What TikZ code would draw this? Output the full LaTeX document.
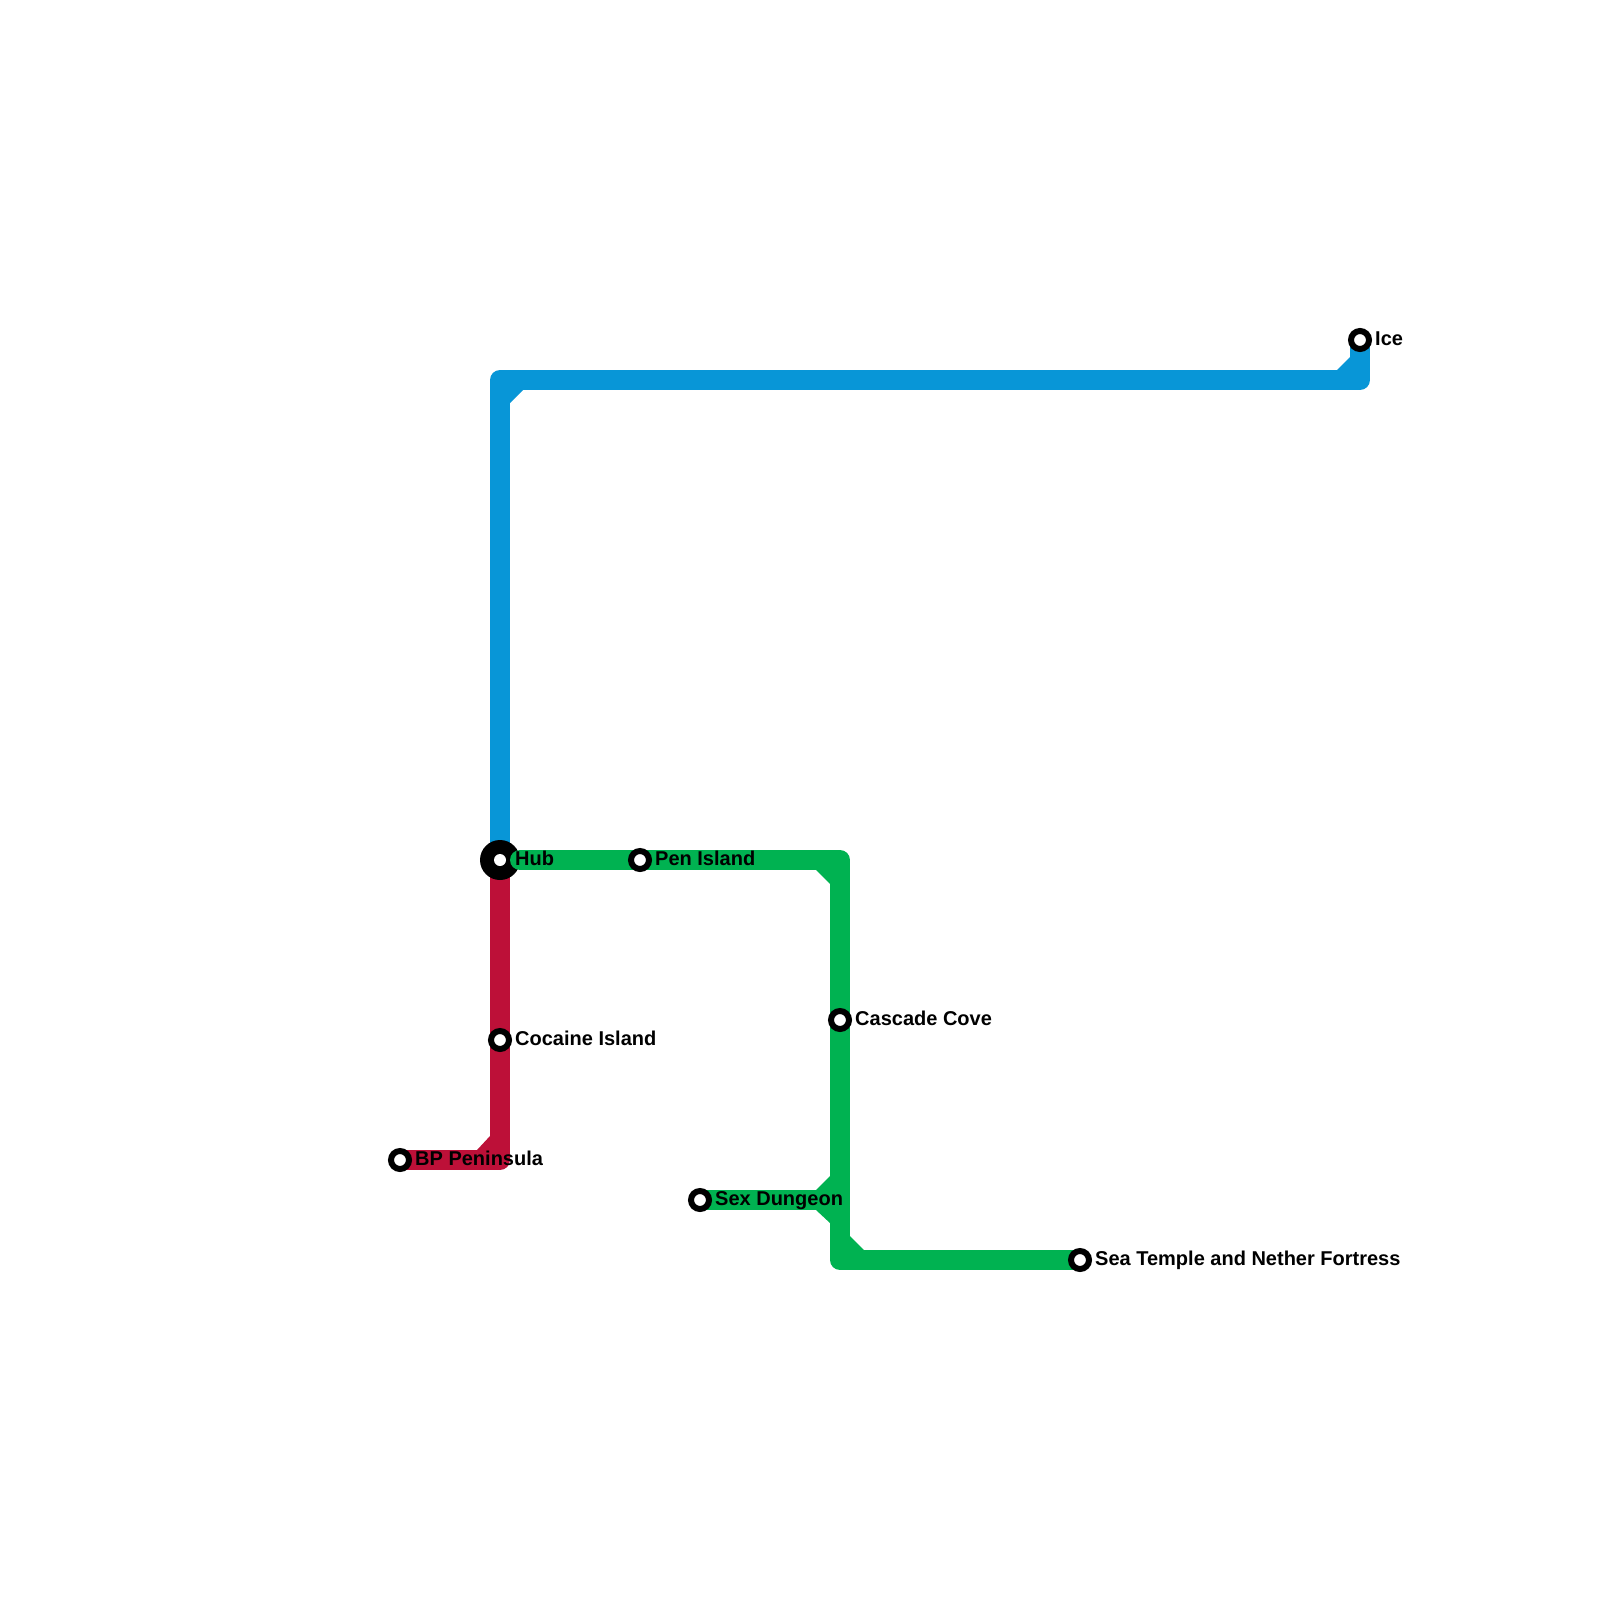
\documentclass[tikz,border=0pt]{standalone}
\usepackage{fontspec}
\setmainfont{Liberation Sans}
\definecolor{bluel}{HTML}{0896D7}
\definecolor{greenl}{HTML}{00B251}
\definecolor{redl}{HTML}{BD1038}
\tikzset{
  stn/.style={circle,fill=white,draw=black,line width=6pt,outer sep=0pt,minimum size=18pt,inner sep=0pt},
  hubstn/.style={circle,fill=black,outer sep=0pt,minimum size=40pt,inner sep=0pt},
  hubdot/.style={circle,fill=white,outer sep=0pt,minimum size=12pt,inner sep=0pt},
  lbl/.style={anchor=base west,inner sep=0pt,font=\fontsize{20}{20}\selectfont\bfseries,text=black},
  metro/.style={line width=20pt,line join=round},
}
\begin{document}
\begin{tikzpicture}[x=1pt,y=-1pt]
\useasboundingbox (0,0) rectangle (1600,1600);
\fill[white] (0,0) rectangle (1600,1600);
% anchor coordinates
\coordinate (hubp) at (500,860);
\coordinate (penp) at (640,860);
\coordinate (cocp) at (500,1040);
\coordinate (bpp) at (400,1160);
\coordinate (icep) at (1360,340);
\coordinate (casp) at (840,1020);
\coordinate (sexp) at (700,1200);
\coordinate (seap) at (1080,1260);
\coordinate (bluea) at (500,380);
\coordinate (blueb) at (1360,380);
\coordinate (reda) at (500,1160);
\coordinate (greena) at (840,860);
\coordinate (greenb) at (840,1260);
\coordinate (greens) at (840,1200);
% blue
\draw[metro,bluel] (hubp) -- (bluea) -- (blueb) -- (icep);
\fill[bluel] (510,403) -- (523,390) -- (510,390) -- cycle;
\fill[bluel] (1337,370) -- (1350,357) -- (1350,370) -- cycle;
% red
\draw[metro,redl] (hubp) -- (reda) -- (bpp);
\fill[redl] (477,1150) -- (490,1136) -- (490,1150) -- cycle;
% hub marker
\node[hubstn] (hub) at (hubp) {};
% green
\draw[metro,greenl,line cap=round] (520,860) -- (penp);
\draw[metro,greenl] (penp) -- (greena) -- (casp);
\draw[metro,greenl] (casp) -- (greenb) -- (seap);
\draw[metro,greenl] (sexp) -- (greens);
\fill[greenl] (816,870) -- (830,870) -- (830,884) -- cycle;
\fill[greenl] (816,1190) -- (830,1176) -- (830,1190) -- cycle;
\fill[greenl] (816,1210) -- (830,1223) -- (830,1210) -- cycle;
\fill[greenl] (850,1236) -- (864,1250) -- (850,1250) -- cycle;
% stations
\node[hubdot] (hubd) at (hubp) {};
\node[stn] (pen) at (penp) {};
\node[stn] (coc) at (cocp) {};
\node[stn] (bp) at (bpp) {};
\node[stn] (ice) at (icep) {};
\node[stn] (cas) at (casp) {};
\node[stn] (sex) at (sexp) {};
\node[stn] (sea) at (seap) {};
% labels
\node[lbl] (hubl) at (515,865) {Hub};
\node[lbl] (penl) at (655,865) {Pen Island};
\node[lbl] (cocl) at (515,1045) {Cocaine Island};
\node[lbl] (bpl) at (415,1165) {BP Peninsula};
\node[lbl] (icel) at (1375,345) {Ice};
\node[lbl] (casl) at (855,1025) {Cascade Cove};
\node[lbl] (sexl) at (715,1205) {Sex Dungeon};
\node[lbl] (seal) at (1095,1265) {Sea Temple and Nether Fortress};
\end{tikzpicture}
\end{document}
